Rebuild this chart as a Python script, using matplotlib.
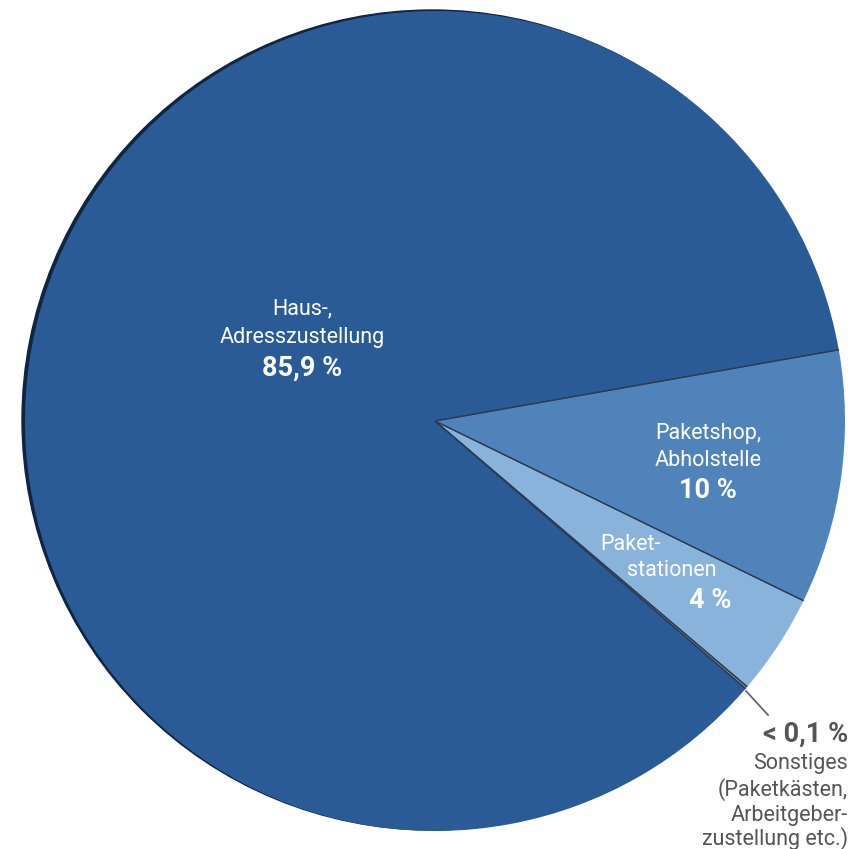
import matplotlib
matplotlib.use("Agg")
import matplotlib.pyplot as plt
import numpy as np
from matplotlib.patches import Circle

categories = ["Haus-, Adresszustellung", "Sonstiges", "Paketstationen", "Paketshop, Abholstelle"]
values = [85.9, 0.1, 4.0, 10.0]
colors = ["#2b5b97", "#7d8a99", "#8ab3dc", "#5083b9"]

W, H = 852, 849
fig = plt.figure(figsize=(W / 100, H / 100), dpi=100)
ax = fig.add_axes([0, 0, 1, 1])

cx, cy = 435, H - 421
R = 410

# dark rim shadow on the left
ax.add_patch(Circle((cx - 3, cy + 1), R, color="#0f2540", zorder=1))

wedges, _ = ax.pie(values, colors=colors, startangle=10, counterclock=True,
                   center=(cx, cy), radius=R, frame=True,
                   wedgeprops=dict(linewidth=0, zorder=2))

# subtle radial separator lines at slice boundaries (taken from the wedges)
for w in wedges:
    for ang in (w.theta1, w.theta2):
        a = np.deg2rad(ang)
        ax.plot([cx, cx + R * np.cos(a)], [cy, cy + R * np.sin(a)],
                color="#2a3d55", lw=0.9, zorder=3, solid_capstyle="butt")

ax.set_xlim(0, W)
ax.set_ylim(0, H)
ax.set_aspect("equal")
ax.axis("off")

fam = ["Roboto", "DejaVu Sans"]

def t(x, y, s, size, weight="normal", color="white", ha="center"):
    ax.text(x, H - y, s, fontsize=size, fontweight=weight, color=color,
            ha=ha, va="center", family=fam, zorder=5)

S, B = 15.5, 19.5
t(302, 309, "Haus-,", S)
t(302, 337, "Adresszustellung", S)
t(302, 368, "85,9 %", B, "bold")

t(708, 433, "Paketshop,", S)
t(708, 460, "Abholstelle", S)
t(708, 490, "10 %", B, "bold")

t(630, 544, "Paket-", S)
t(672, 571, "stationen", S)
t(710, 601, "4 %", B, "bold")

gray = "#555555"
t(848, 734, "< 0,1 %", B, "bold", gray, "right")
t(848, 763, "Sonstiges", S, "normal", gray, "right")
t(848, 790, "(Paketkästen,", S, "normal", gray, "right")
t(848, 815, "Arbeitgeber-", S, "normal", gray, "right")
t(848, 839, "zustellung etc.)", S, "normal", gray, "right")

ax.plot([746, 768], [H - 691, H - 715], color="#666666", lw=1.3, zorder=5)

fig.savefig("out.png", dpi=100)
